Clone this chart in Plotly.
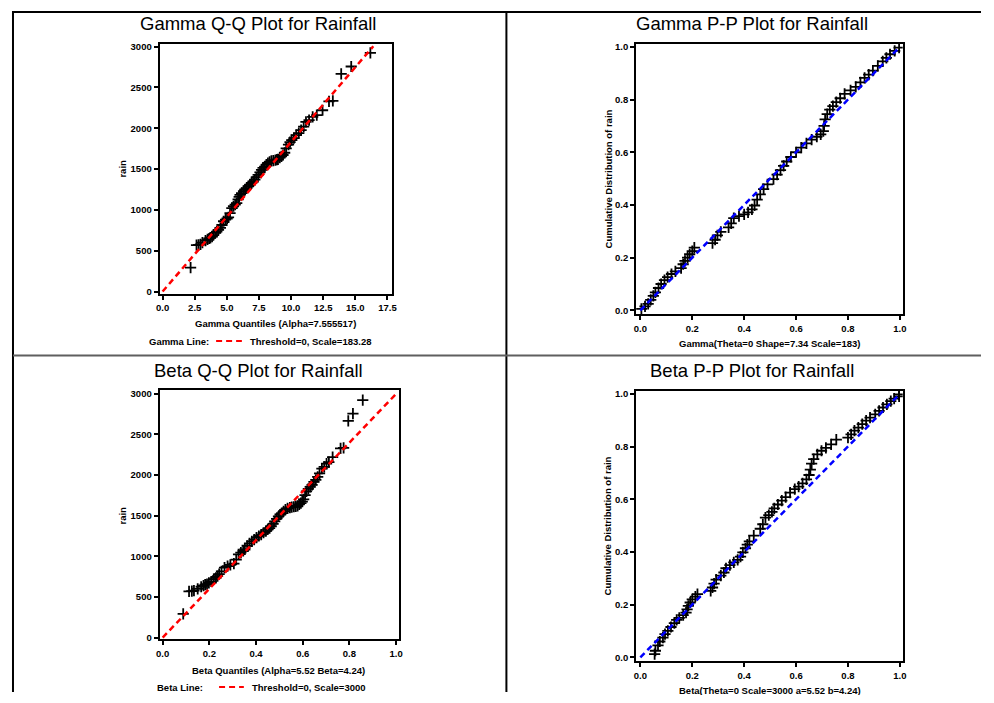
import plotly.graph_objects as go

# page is 994x703; the html body adds an 8px margin, so the figure is 978x687
W, H = 978, 687
OFF = 8

# ---------------- data ----------------
gamma_qq_x = [2.18, 2.64, 2.80, 2.95, 3.10, 3.34, 3.50, 3.62, 3.72, 3.85, 3.95, 4.10, 4.22, 4.35, 4.50,
              4.62, 4.75, 4.90, 5.02, 5.13, 5.25, 5.39, 5.52, 5.65, 5.77, 5.88, 5.96, 6.03, 6.15, 6.30,
              6.42, 6.54, 6.68, 6.80, 6.93, 7.06, 7.18, 7.30, 7.44, 7.58, 7.70, 7.82, 7.95, 8.08, 8.20,
              8.33, 8.47, 8.62, 8.78, 8.90, 8.98, 9.12, 9.25, 9.37, 9.50, 9.62, 9.80, 9.92, 10.05, 10.22,
              10.40, 10.60, 10.78, 10.98, 11.16, 11.40, 11.68, 12.00, 12.45, 12.95, 13.25, 13.90, 14.68, 16.17]
rain = [292, 568, 572, 577, 600, 625, 640, 650, 658, 672, 690, 719, 735, 755, 780,
        815, 861, 880, 895, 909, 960, 1023, 1045, 1065, 1084, 1130, 1160, 1185, 1205, 1230,
        1250, 1267, 1290, 1310, 1330, 1348, 1370, 1400, 1429, 1460, 1490, 1515, 1531, 1555, 1575,
        1590, 1600, 1605, 1610, 1615, 1620, 1640, 1655, 1673, 1700, 1754, 1800, 1830, 1855, 1880,
        1916, 1940, 1977, 2020, 2079, 2100, 2140, 2160, 2221, 2330, 2335, 2667, 2757, 2923]
beta_qq_x = [0.088, 0.113, 0.125, 0.134, 0.150, 0.165, 0.175, 0.182, 0.190, 0.198, 0.208, 0.219, 0.228, 0.235, 0.242,
             0.252, 0.265, 0.278, 0.290, 0.305, 0.315, 0.325, 0.335, 0.345, 0.352, 0.362, 0.372, 0.382, 0.392, 0.402,
             0.412, 0.422, 0.432, 0.442, 0.450, 0.458, 0.465, 0.473, 0.480, 0.488, 0.496, 0.503, 0.510, 0.518, 0.526,
             0.535, 0.545, 0.553, 0.562, 0.570, 0.578, 0.585, 0.592, 0.598, 0.604, 0.610, 0.616, 0.624, 0.632, 0.640,
             0.648, 0.656, 0.664, 0.672, 0.682, 0.692, 0.702, 0.712, 0.728, 0.762, 0.775, 0.795, 0.815, 0.857]

gamma_pp_x = [0.004, 0.018, 0.030, 0.040, 0.050, 0.058, 0.070, 0.080, 0.093, 0.105, 0.120, 0.135, 0.157, 0.165,
              0.172, 0.182, 0.190, 0.200, 0.208, 0.278, 0.288, 0.297, 0.310, 0.340, 0.350, 0.360, 0.380, 0.400,
              0.415, 0.430, 0.440, 0.450, 0.462, 0.475, 0.490, 0.513, 0.527, 0.540, 0.552, 0.564, 0.580, 0.600,
              0.620, 0.640, 0.660, 0.680, 0.695, 0.705, 0.708, 0.712, 0.720, 0.730, 0.742, 0.755, 0.770, 0.787,
              0.810, 0.830, 0.848, 0.864, 0.880, 0.896, 0.915, 0.934, 0.948, 0.962, 0.980, 0.997]
gamma_pp_y = [0.006, 0.015, 0.025, 0.040, 0.055, 0.068, 0.085, 0.100, 0.115, 0.126, 0.138, 0.148, 0.160, 0.175,
              0.188, 0.200, 0.213, 0.225, 0.238, 0.255, 0.268, 0.285, 0.298, 0.315, 0.330, 0.350, 0.358, 0.364,
              0.372, 0.383, 0.398, 0.420, 0.440, 0.460, 0.478, 0.498, 0.515, 0.532, 0.548, 0.565, 0.582, 0.600,
              0.618, 0.634, 0.648, 0.659, 0.668, 0.680, 0.700, 0.725, 0.745, 0.762, 0.775, 0.790, 0.805, 0.822,
              0.835, 0.848, 0.865, 0.882, 0.895, 0.910, 0.928, 0.945, 0.958, 0.972, 0.985, 0.997]

beta_pp_x = [0.055, 0.058, 0.068, 0.075, 0.087, 0.095, 0.106, 0.118, 0.131, 0.140, 0.150, 0.165, 0.176, 0.180,
             0.185, 0.192, 0.200, 0.212, 0.220, 0.271, 0.278, 0.284, 0.292, 0.310, 0.322, 0.330, 0.345, 0.360,
             0.375, 0.386, 0.395, 0.405, 0.412, 0.420, 0.437, 0.462, 0.472, 0.482, 0.495, 0.507, 0.516, 0.530,
             0.545, 0.560, 0.577, 0.595, 0.610, 0.625, 0.640, 0.650, 0.655, 0.660, 0.668, 0.682, 0.698, 0.715,
             0.735, 0.755, 0.800, 0.812, 0.825, 0.840, 0.855, 0.870, 0.885, 0.905, 0.920, 0.935, 0.950, 0.965,
             0.978, 0.997, 0.997]
beta_pp_y = [0.012, 0.025, 0.045, 0.060, 0.075, 0.088, 0.100, 0.115, 0.130, 0.142, 0.150, 0.160, 0.170, 0.182,
             0.195, 0.208, 0.220, 0.230, 0.240, 0.252, 0.265, 0.280, 0.295, 0.310, 0.322, 0.338, 0.350, 0.360,
             0.370, 0.382, 0.398, 0.414, 0.428, 0.440, 0.462, 0.488, 0.505, 0.530, 0.540, 0.552, 0.565, 0.580,
             0.595, 0.608, 0.625, 0.638, 0.648, 0.660, 0.675, 0.692, 0.712, 0.735, 0.752, 0.770, 0.784, 0.795,
             0.808, 0.826, 0.834, 0.846, 0.860, 0.872, 0.885, 0.898, 0.910, 0.922, 0.935, 0.948, 0.960, 0.972,
             0.982, 0.990, 0.998]

# reference lines (endpoints)
gamma_line_x = [0.0, 16.4]
gamma_line_y = [0.0, 3005.0]
beta_line_x = [0.0, 1.0]
beta_line_y = [0.0, 3000.0]
pp_line = [0.0, 1.0]

qq_gamma_ticks = [0.0, 2.5, 5.0, 7.5, 10.0, 12.5, 15.0, 17.5]
qq_y_ticks = [0, 500, 1000, 1500, 2000, 2500, 3000]
unit_ticks = [0.0, 0.2, 0.4, 0.6, 0.8, 1.0]

titles = ["Gamma Q-Q Plot for Rainfall", "Gamma P-P Plot for Rainfall",
          "Beta Q-Q Plot for Rainfall", "Beta P-P Plot for Rainfall"]
xtitles = ["Gamma Quantiles (Alpha=7.555517)", "Gamma(Theta=0 Shape=7.34 Scale=183)",
           "Beta Quantiles (Alpha=5.52 Beta=4.24)", "Beta(Theta=0 Scale=3000 a=5.52 b=4.24)"]
ytitles = ["rain", "Cumulative Distribution of rain", "rain", "Cumulative Distribution of rain"]

assert len(gamma_qq_x) == len(rain) == len(beta_qq_x)
assert len(gamma_pp_x) == len(gamma_pp_y)
assert len(beta_pp_x) == len(beta_pp_y)

# ---------------- helpers for layout (page pixels -> paper) ----------------
def fx(p):
    return (p - OFF) / W

def fy(p):
    return 1 - (p - OFF) / H

SMALL = dict(family="Liberation Sans, Arial, sans-serif", size=9.5, color="black", weight="bold")
TITLE = dict(family="Liberation Sans, Arial, sans-serif", size=18.5, color="black")

fig = go.Figure()

marker = dict(symbol="cross-thin", size=8, color="black", line=dict(color="black", width=1.8))

panels = [
    dict(x=gamma_qq_x, y=rain, lx=gamma_line_x, ly=gamma_line_y, lc="#ff0000", ax="x", ay="y"),
    dict(x=gamma_pp_x, y=gamma_pp_y, lx=pp_line, ly=pp_line, lc="#0000ff", ax="x2", ay="y2"),
    dict(x=beta_qq_x, y=rain, lx=beta_line_x, ly=beta_line_y, lc="#ff0000", ax="x3", ay="y3"),
    dict(x=beta_pp_x, y=beta_pp_y, lx=pp_line, ly=pp_line, lc="#0000ff", ax="x4", ay="y4"),
]
for p in panels:
    fig.add_trace(go.Scatter(x=p["x"], y=p["y"], mode="markers", marker=marker,
                             xaxis=p["ax"], yaxis=p["ay"], showlegend=False, hoverinfo="x+y"))
    fig.add_trace(go.Scatter(x=p["lx"], y=p["ly"], mode="lines",
                             line=dict(color=p["lc"], width=2.5, dash="6px,4px"),
                             xaxis=p["ax"], yaxis=p["ay"], showlegend=False, hoverinfo="skip"))

def axis(domain, rng, ticks, fmt, anchor):
    return dict(domain=domain, range=rng, tickvals=ticks, tickformat=fmt, anchor=anchor,
                showgrid=False, zeroline=False, showline=True, mirror=True,
                linecolor="black", linewidth=2, ticks="outside", ticklen=4, tickwidth=1.5,
                tickcolor="black", tickfont=SMALL, fixedrange=True)

boxes = {  # page-pixel boxes: left, right, top, bottom
    1: (157, 392, 41, 293),
    2: (638, 907, 41, 314),
    3: (157, 399, 390, 642),
    4: (638, 907, 391, 664),
}
def xd(b):
    return [fx(boxes[b][0]), fx(boxes[b][1])]
def yd(b):
    return [fy(boxes[b][3]), fy(boxes[b][2])]

fig.update_layout(
    xaxis=axis(xd(1), [-0.23, 17.89], qq_gamma_ticks, ".1f", "y"),
    yaxis=axis(yd(1), [-24, 3036], qq_y_ticks, "d", "x"),
    xaxis2=axis(xd(2), [-0.016, 1.011], unit_ticks, ".1f", "y2"),
    yaxis2=axis(yd(2), [-0.015, 1.012], unit_ticks, ".1f", "x2"),
    xaxis3=axis(xd(3), [-0.013, 1.014], unit_ticks, ".1f", "y3"),
    yaxis3=axis(yd(3), [-24, 3052], qq_y_ticks, "d", "x3"),
    xaxis4=axis(xd(4), [-0.016, 1.011], unit_ticks, ".1f", "y4"),
    yaxis4=axis(yd(4), [-0.015, 1.012], unit_ticks, ".1f", "x4"),
)

ann = []
title_pos = [(256, 21), (755, 21), (257, 371), (755, 371)]
for t, (cx, cy) in zip(titles, title_pos):
    ann.append(dict(text=t, x=fx(cx), y=fy(cy), xref="paper", yref="paper",
                    xanchor="center", yanchor="middle", showarrow=False, font=TITLE))
xt_pos = [(274, 323), (773, 343), (277, 673), (773, 693)]
for t, (cx, cy) in zip(xtitles, xt_pos):
    ann.append(dict(text=t, x=fx(cx), y=fy(cy), xref="paper", yref="paper",
                    xanchor="center", yanchor="middle", showarrow=False, font=SMALL))
yt_pos = [(120, 167), (610, 177.5), (120, 517), (610, 527.5)]
for t, (cx, cy) in zip(ytitles, yt_pos):
    ann.append(dict(text=t, x=fx(cx), y=fy(cy), xref="paper", yref="paper", textangle=-90,
                    xanchor="center", yanchor="middle", showarrow=False, font=SMALL))
# legends
legends = [("Gamma Line:", 144, 341, 214, 240, "Threshold=0, Scale=183.28", 246),
           ("Beta Line:", 152, 690, 217, 242, "Threshold=0, Scale=3000", 248)]
shapes = []
for lab, lx, ly, d0, d1, txt, tx in legends:
    ann.append(dict(text=lab, x=fx(lx), y=fy(ly), xref="paper", yref="paper",
                    xanchor="left", yanchor="middle", showarrow=False, font=SMALL))
    ann.append(dict(text=txt, x=fx(tx), y=fy(ly), xref="paper", yref="paper",
                    xanchor="left", yanchor="middle", showarrow=False, font=SMALL))
    shapes.append(dict(type="line", xref="paper", yref="paper", x0=fx(d0), x1=fx(d1),
                       y0=fy(ly), y1=fy(ly), line=dict(color="#ff0000", width=2, dash="6px,4px")))

# table borders
shapes += [
    dict(type="line", xref="paper", yref="paper", x0=fx(9), x1=1, y0=fy(9), y1=fy(9),
         line=dict(color="black", width=2)),
    dict(type="line", xref="paper", yref="paper", x0=fx(9), x1=fx(9), y0=fy(8), y1=0,
         line=dict(color="black", width=2)),
    dict(type="line", xref="paper", yref="paper", x0=fx(507), x1=fx(507), y0=fy(8), y1=0,
         line=dict(color="black", width=2)),
    dict(type="line", xref="paper", yref="paper", x0=fx(9), x1=1, y0=fy(355.5), y1=fy(355.5),
         line=dict(color="#5f5f5f", width=2)),
]

fig.update_layout(width=W, height=H, margin=dict(l=0, r=0, t=0, b=0),
                  paper_bgcolor="white", plot_bgcolor="white",
                  annotations=ann, shapes=shapes, showlegend=False)

fig.write_html("out.html", config={"displayModeBar": False})
